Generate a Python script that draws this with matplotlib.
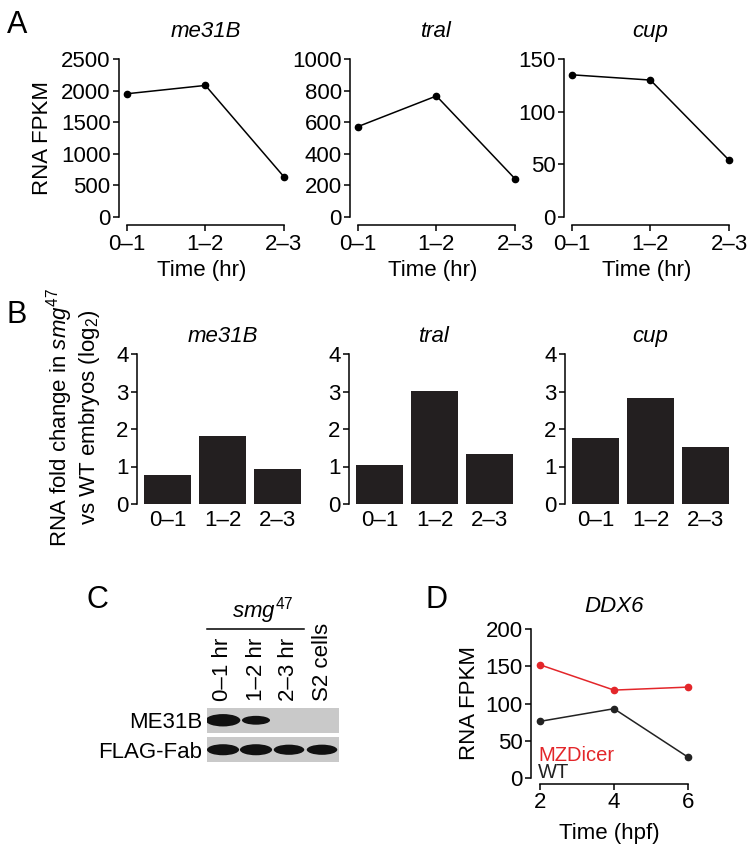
import numpy as np
import matplotlib
matplotlib.use("Agg")
import matplotlib.pyplot as plt
from matplotlib.patches import Ellipse, Rectangle
from matplotlib import transforms

# --- data ---
time_labels = ["0–1", "1–2", "2–3"]
genes = ["me31B", "tral", "cup"]
fpkm_me31b = [1950, 2082, 635]
fpkm_tral = [572, 766, 242]
fpkm_cup = [135, 130, 54]
fpkm_ymax = [2500, 1000, 150]
fpkm_step = [500, 200, 50]

fold_me31b = [0.77, 1.82, 0.93]
fold_tral = [1.04, 3.01, 1.34]
fold_cup = [1.76, 2.84, 1.51]

blot_lanes = ["0–1 hr", "1–2 hr", "2–3 hr", "S2 cells"]
blot_rows = ["ME31B", "FLAG-Fab"]
me31b_band = [1.0, 0.6, 0.0, 0.0]
flag_band = [0.85, 0.85, 0.75, 0.75]

ddx6_hpf = [2, 4, 6]
ddx6_mzdicer = [152, 118, 122]
ddx6_wt = [76, 93, 28]

# --- style ---
plt.rcParams['font.family'] = ['Liberation Sans', 'DejaVu Sans']
plt.rcParams['mathtext.fontset'] = 'custom'
plt.rcParams['mathtext.rm'] = 'Liberation Sans'
plt.rcParams['mathtext.it'] = 'Liberation Sans:italic'
plt.rcParams['font.size'] = 16
plt.rcParams['axes.linewidth'] = 1.1
plt.rcParams['xtick.major.width'] = 1.1
plt.rcParams['ytick.major.width'] = 1.1
plt.rcParams['xtick.major.size'] = 4
plt.rcParams['ytick.major.size'] = 4
plt.rcParams['xtick.major.pad'] = 2
plt.rcParams['ytick.major.pad'] = 2

W, H = 756, 852
fig = plt.figure(figsize=(W / 100, H / 100), dpi=100)


def px_box(left, top, right, bottom):
    return [left / W, 1 - bottom / H, (right - left) / W, (bottom - top) / H]


def clean(ax):
    ax.spines[['top', 'right']].set_visible(False)


BAR = '#231f20'
RED = '#e3262a'

# --- A: RNA FPKM line plots ---
a_left = [119, 350, 564]
for i, vals in enumerate([fpkm_me31b, fpkm_tral, fpkm_cup]):
    ax = fig.add_axes(px_box(a_left[i], 59, a_left[i] + 165, 217))
    ax.plot(range(3), vals, color='k', lw=1.1, marker='o', ms=4.5, clip_on=False)
    ax.set_xlim(-0.1, 2)
    ax.set_ylim(0, fpkm_ymax[i])
    ax.set_yticks(np.arange(0, fpkm_ymax[i] + 1, fpkm_step[i]))
    ax.set_xticks(range(3))
    ax.set_xticklabels(time_labels)
    clean(ax)
    ax.spines['bottom'].set_position(('outward', 6))
    ax.spines['bottom'].set_bounds(0, 2)
    ax.set_xlabel('Time (hr)', labelpad=4)
    if i == 0:
        ax.set_ylabel('RNA FPKM', labelpad=6)
    trans = transforms.blended_transform_factory(ax.transData, ax.transAxes)
    ax.text(1, 1.139, genes[i], style='italic', ha='center', va='baseline',
            transform=trans, fontsize=16)

# --- B: fold change bars ---
b_left = [137, 349, 565]
for i, vals in enumerate([fold_me31b, fold_tral, fold_cup]):
    ax = fig.add_axes(px_box(b_left[i], 354, b_left[i] + 168.5, 504))
    ax.bar(range(3), vals, width=0.85, color=BAR)
    ax.set_xlim(-0.55, 2.5)
    ax.set_ylim(0, 4)
    ax.set_yticks(range(5))
    ax.set_xticks(range(3))
    ax.set_xticklabels(time_labels)
    ax.tick_params(axis='x', length=0, pad=4)
    clean(ax)
    ax.spines['bottom'].set_visible(False)
    trans = transforms.blended_transform_factory(ax.transData, ax.transAxes)
    ax.text(1, 1.08, genes[i], style='italic', ha='center', va='baseline',
            transform=trans, fontsize=16)
    if i == 0:
        ax.text(-0.38, 0.58, 'RNA fold change in $smg^{47}$\nvs WT embryos (log$_2$)',
                rotation=90, ha='center', va='center', multialignment='center',
                transform=ax.transAxes, linespacing=1.15)

# --- C: western blot ---
axc = fig.add_axes(px_box(206.5, 707, 338.5, 763))
axc.set_xlim(-0.5, 3.5)
axc.set_ylim(1.45, -0.45)
for r, bands in enumerate([me31b_band, flag_band]):
    axc.add_patch(Rectangle((-0.5, r - 0.43), 4, 0.86, color='#c9c9c9', lw=0))
    for lane, v in enumerate(bands):
        if v > 0:
            axc.add_patch(Ellipse((lane, r), 0.55 + 0.5 * v, 0.12 + 0.3 * v,
                                  color='#111111', lw=0))
axc.set_xticks(range(len(blot_lanes)))
axc.set_xticklabels(blot_lanes, rotation=90)
axc.xaxis.set_ticks_position('top')
axc.tick_params(axis='x', length=0, pad=4)
axc.set_yticks(range(len(blot_rows)))
axc.set_yticklabels(blot_rows)
axc.tick_params(axis='y', length=0, pad=3)
for s in axc.spines.values():
    s.set_visible(False)
trans = transforms.blended_transform_factory(axc.transData, axc.transAxes)
axc.plot([-0.48, 2.45], [2.39, 2.39], color='k', lw=1.1, transform=trans, clip_on=False)
axc.text(1.2, 2.72, '$smg^{47}$', ha='center', va='center', transform=trans)

# --- D: DDX6 ---
axd = fig.add_axes(px_box(531, 629, 688, 778))
axd.plot(ddx6_hpf, ddx6_wt, color='#222222', lw=1.1, marker='o', ms=4.5, clip_on=False)
axd.plot(ddx6_hpf, ddx6_mzdicer, color=RED, lw=1.1, marker='o', ms=4.5, clip_on=False)
axd.set_xlim(1.76, 6)
axd.set_ylim(0, 200)
axd.set_yticks(range(0, 201, 50))
axd.set_xticks(ddx6_hpf)
clean(axd)
axd.spines['bottom'].set_position(('outward', 4))
axd.spines['bottom'].set_bounds(2, 6)
axd.set_xlabel('Time (hpf)', labelpad=7)
axd.set_ylabel('RNA FPKM', labelpad=4)
trans = transforms.blended_transform_factory(axd.transData, axd.transAxes)
axd.text(4, 1.114, 'DDX6', style='italic', ha='center', va='baseline',
         transform=trans, fontsize=16)
axd.text(0.045, 0.154, 'MZDicer', color=RED, fontsize=14.5, ha='left', va='center',
         transform=axd.transAxes)
axd.text(0.045, 0.034, 'WT', color='#222222', fontsize=14.5, ha='left', va='center',
         transform=axd.transAxes)

# --- panel letters ---
for letter, x, y in [('A', 17, 25), ('B', 17, 315), ('C', 97, 600), ('D', 437, 600)]:
    fig.text(x / W, 1 - y / H, letter, fontsize=22, ha='center', va='center')

fig.savefig('out.png', dpi=100)
